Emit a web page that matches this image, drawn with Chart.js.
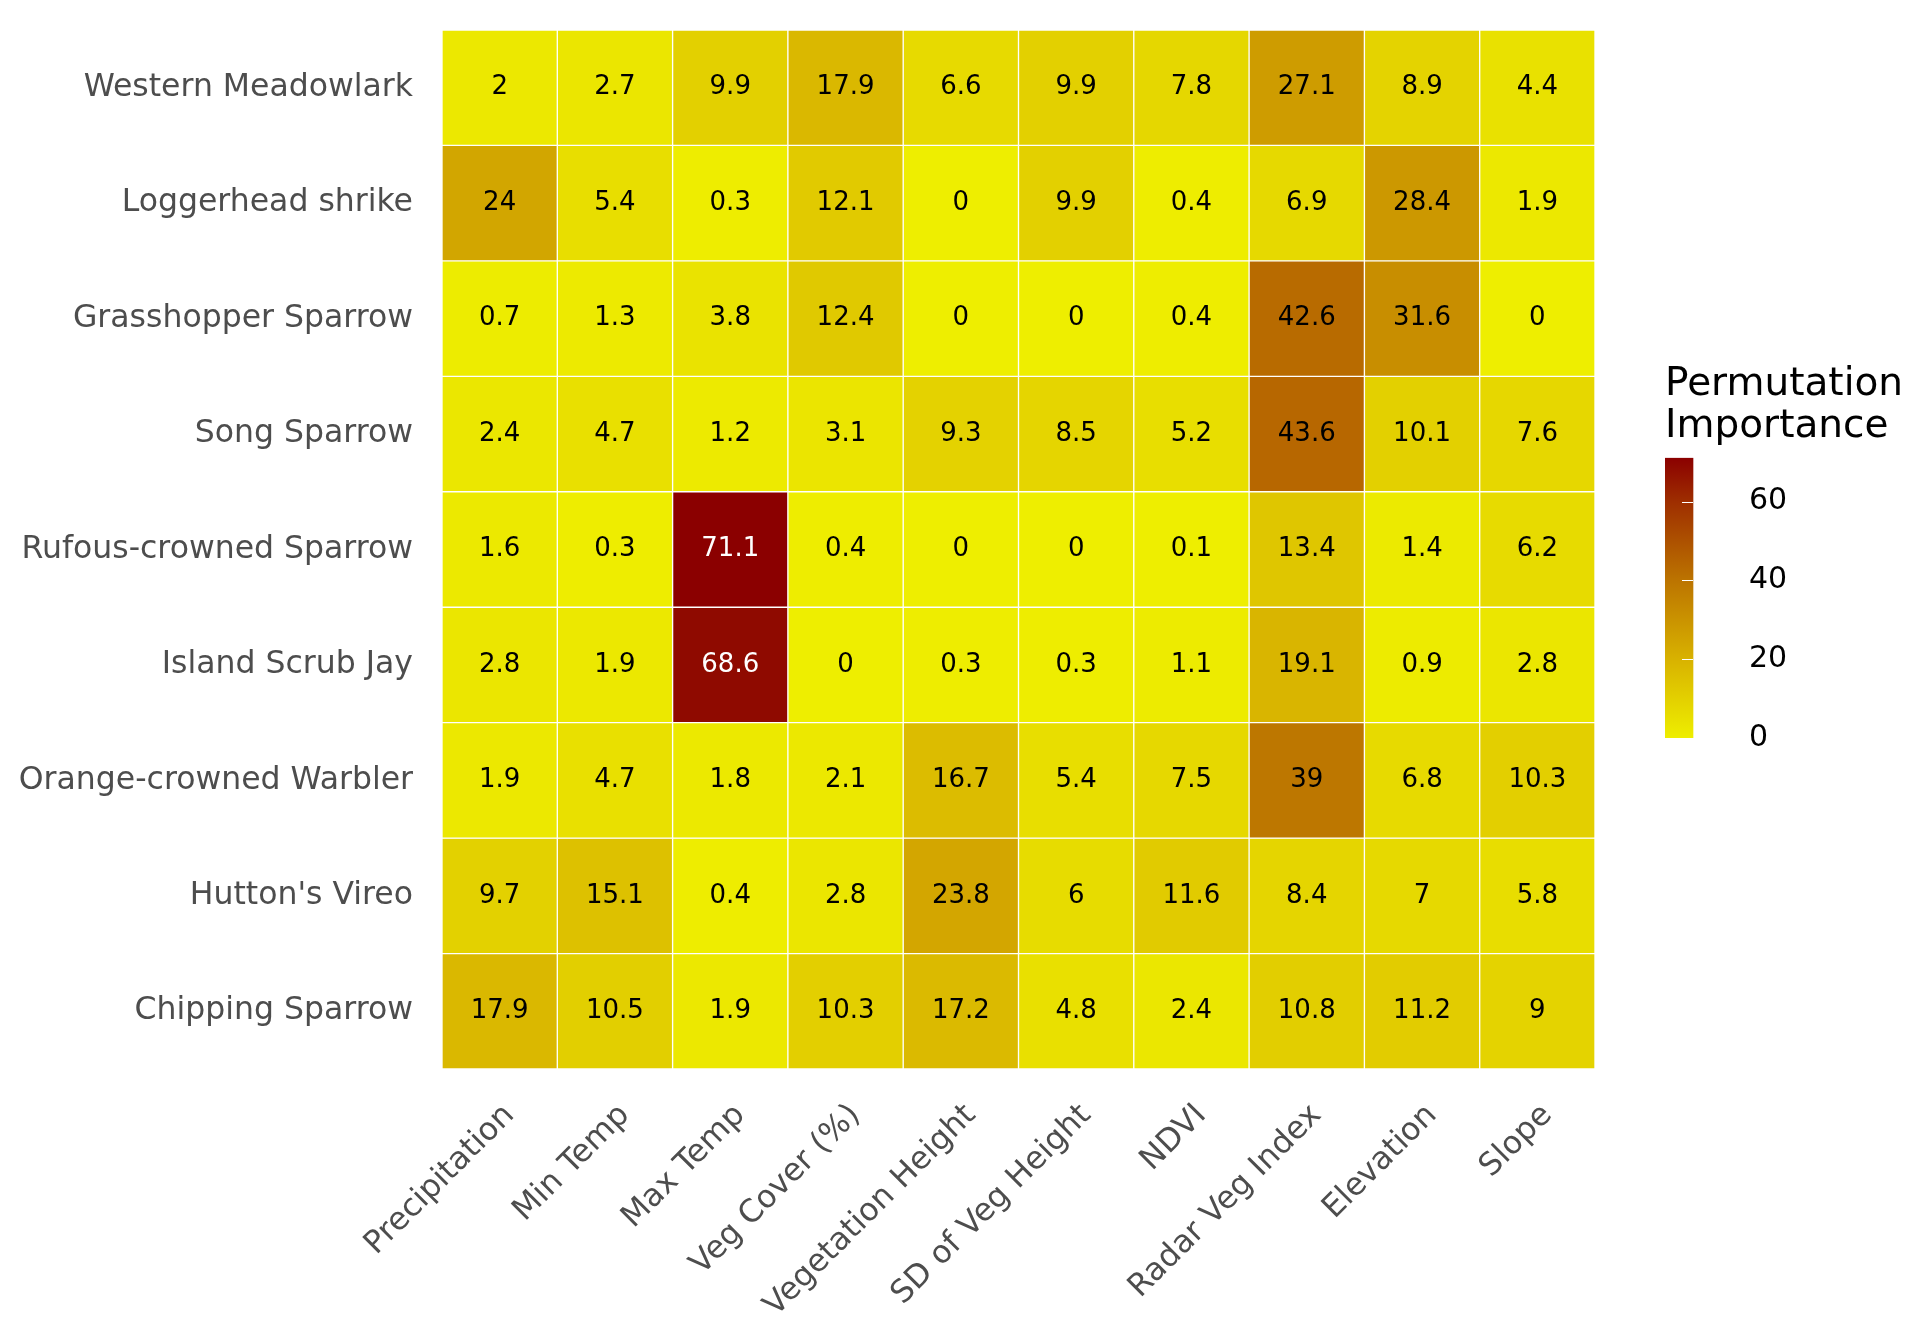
<!DOCTYPE html>
<html>
<head>
<meta charset="utf-8">
<script src="https://cdn.jsdelivr.net/npm/chart.js@4/dist/chart.umd.min.js"></script>
<style>
  body { margin: 0; background: #fff; }
  #wrap { position: relative; width: 1927px; height: 1340px; }
  #heat { position: absolute; left: 0; top: 0; }
  #scale { position: absolute; left: 1665px; top: 352px; }
</style>
</head>
<body>
<div id="wrap">
  <canvas id="heat" width="1927" height="1340"></canvas>
  <canvas id="scale" width="262" height="420"></canvas>
</div>
<script>
// rows top to bottom
const species = ['Western Meadowlark', 'Loggerhead shrike', 'Grasshopper Sparrow', 'Song Sparrow',
  'Rufous-crowned Sparrow', 'Island Scrub Jay', 'Orange-crowned Warbler', "Hutton's Vireo", 'Chipping Sparrow'];
const variables = ['Precipitation', 'Min Temp', 'Max Temp', 'Veg Cover (%)', 'Vegetation Height',
  'SD of Veg Height', 'NDVI', 'Radar Veg Index', 'Elevation', 'Slope'];

const westernMeadowlark   = [2, 2.7, 9.9, 17.9, 6.6, 9.9, 7.8, 27.1, 8.9, 4.4];
const loggerheadShrike    = [24, 5.4, 0.3, 12.1, 0, 9.9, 0.4, 6.9, 28.4, 1.9];
const grasshopperSparrow  = [0.7, 1.3, 3.8, 12.4, 0, 0, 0.4, 42.6, 31.6, 0];
const songSparrow         = [2.4, 4.7, 1.2, 3.1, 9.3, 8.5, 5.2, 43.6, 10.1, 7.6];
const rufousCrowned       = [1.6, 0.3, 71.1, 0.4, 0, 0, 0.1, 13.4, 1.4, 6.2];
const islandScrubJay      = [2.8, 1.9, 68.6, 0, 0.3, 0.3, 1.1, 19.1, 0.9, 2.8];
const orangeCrowned       = [1.9, 4.7, 1.8, 2.1, 16.7, 5.4, 7.5, 39, 6.8, 10.3];
const huttonsVireo        = [9.7, 15.1, 0.4, 2.8, 23.8, 6, 11.6, 8.4, 7, 5.8];
const chippingSparrow     = [17.9, 10.5, 1.9, 10.3, 17.2, 4.8, 2.4, 10.8, 11.2, 9];

const rows = [westernMeadowlark, loggerheadShrike, grasshopperSparrow, songSparrow, rufousCrowned,
  islandScrubJay, orangeCrowned, huttonsVireo, chippingSparrow];

// colour scale
const stopValues = [0, 20, 40, 60, 71.1];
const stopColors = ['#EEEE00', '#D8B200', '#BC7400', '#9E2E00', '#8B0000'];
const legendTicks = [0, 20, 40, 60];
const legendMax = 71.1;

const FONT = 'DejaVu Sans';

function hexToRgb(h) {
  return [parseInt(h.slice(1, 3), 16), parseInt(h.slice(3, 5), 16), parseInt(h.slice(5, 7), 16)];
}

function colorFor(v) {
  for (let i = 1; i < stopValues.length; i++) {
    if (v <= stopValues[i]) {
      const f = (v - stopValues[i - 1]) / (stopValues[i] - stopValues[i - 1]);
      const a = hexToRgb(stopColors[i - 1]), b = hexToRgb(stopColors[i]);
      const c = a.map((x, k) => Math.round(x + (b[k] - x) * f));
      return 'rgb(' + c.join(',') + ')';
    }
  }
  return stopColors[stopColors.length - 1];
}

const nRows = species.length;

const datasets = rows.map((vals, r) => ({
  label: species[r],
  data: vals.map(() => [nRows - r - 1, nRows - r]),
  values: vals,
  backgroundColor: vals.map(colorFor),
  borderColor: '#ffffff',
  borderWidth: 1,
  borderSkipped: false,
  grouped: false,
  barPercentage: 1,
  categoryPercentage: 1
}));

const cellLabels = {
  id: 'cellLabels',
  afterDatasetsDraw(chart) {
    const ctx = chart.ctx;
    ctx.save();
    ctx.font = '26px "' + FONT + '"';
    ctx.textAlign = 'center';
    ctx.textBaseline = 'middle';
    chart.data.datasets.forEach((ds, d) => {
      chart.getDatasetMeta(d).data.forEach((el, i) => {
        const v = ds.values[i];
        ctx.fillStyle = v > 60 ? '#ffffff' : '#000000';
        ctx.fillText(String(v), el.x, (el.y + el.base) / 2);
      });
    });
    ctx.restore();
  }
};

new Chart(document.getElementById('heat'), {
  type: 'bar',
  data: { labels: variables, datasets: datasets },
  options: {
    responsive: false,
    animation: false,
    layout: { padding: { left: 0, top: 30, right: 332, bottom: 0 } },
    plugins: { legend: { display: false }, tooltip: { enabled: false } },
    scales: {
      x: {
        grid: { display: false },
        border: { display: false },
        ticks: {
          autoSkip: false,
          minRotation: 45,
          maxRotation: 45,
          padding: 20,
          labelOffset: 10,
          color: '#4D4D4D',
          font: { family: FONT, size: 31.5 }
        },
        afterFit(scale) { scale.height = 271; }
      },
      y: {
        min: 0,
        max: nRows,
        grid: { display: false },
        border: { display: false },
        afterBuildTicks(scale) {
          scale.ticks = species.map((s, i) => ({ value: nRows - i - 0.5 }));
        },
        ticks: {
          padding: 21,
          color: '#4D4D4D',
          font: { family: FONT, size: 31.5 },
          callback: (value) => species[Math.round(nRows - 0.5 - value)]
        },
        afterFit(scale) {
          scale.width = 442;
          scale.paddingTop = 0;
          scale.paddingBottom = 0;
        }
      }
    }
  },
  plugins: [cellLabels]
});

// colour bar legend
const barTicks = {
  id: 'barTicks',
  afterDatasetsDraw(chart) {
    const ctx = chart.ctx;
    const y = chart.scales.y;
    const el = chart.getDatasetMeta(0).data[0];
    const left = el.x - el.width / 2, right = el.x + el.width / 2;
    ctx.save();
    ctx.strokeStyle = '#ffffff';
    ctx.lineWidth = 1.2;
    legendTicks.forEach(t => {
      const py = Math.round(y.getPixelForValue(t)) + 0.5;
      ctx.beginPath();
      ctx.moveTo(left, py); ctx.lineTo(left + 11, py);
      ctx.moveTo(right - 11, py); ctx.lineTo(right, py);
      ctx.stroke();
    });
    ctx.restore();
  }
};

new Chart(document.getElementById('scale'), {
  type: 'bar',
  data: {
    labels: [''],
    datasets: [{
      data: [[0, legendMax]],
      borderWidth: 0,
      barPercentage: 1,
      categoryPercentage: 1,
      backgroundColor(c) {
        const chart = c.chart;
        if (!chart.chartArea) return stopColors[0];
        const sc = chart.scales.y;
        const g = chart.ctx.createLinearGradient(0, sc.getPixelForValue(0), 0, sc.getPixelForValue(legendMax));
        stopValues.forEach((v, i) => g.addColorStop(v / legendMax, stopColors[i]));
        return g;
      }
    }]
  },
  options: {
    responsive: false,
    animation: false,
    layout: { padding: { left: 0, top: 4, right: 0, bottom: 34 } },
    plugins: {
      legend: { display: false },
      tooltip: { enabled: false },
      title: {
        display: true,
        align: 'start',
        text: ['Permutation', 'Importance'],
        color: '#000000',
        font: { family: FONT, size: 39, weight: 'normal', lineHeight: 1.1 },
        padding: { top: 7, bottom: 9 }
      }
    },
    scales: {
      x: { display: false, offset: false },
      y: {
        position: 'right',
        min: 0,
        max: legendMax,
        grid: { display: false },
        border: { display: false },
        afterBuildTicks(scale) { scale.ticks = legendTicks.map(v => ({ value: v })); },
        ticks: {
          padding: 20,
          color: '#000000',
          font: { family: FONT, size: 30 }
        },
        afterFit(scale) {
          scale.width = 206;
          scale.paddingTop = 0;
          scale.paddingBottom = 0;
        }
      }
    }
  },
  plugins: [barTicks]
});
</script>
</body>
</html>
